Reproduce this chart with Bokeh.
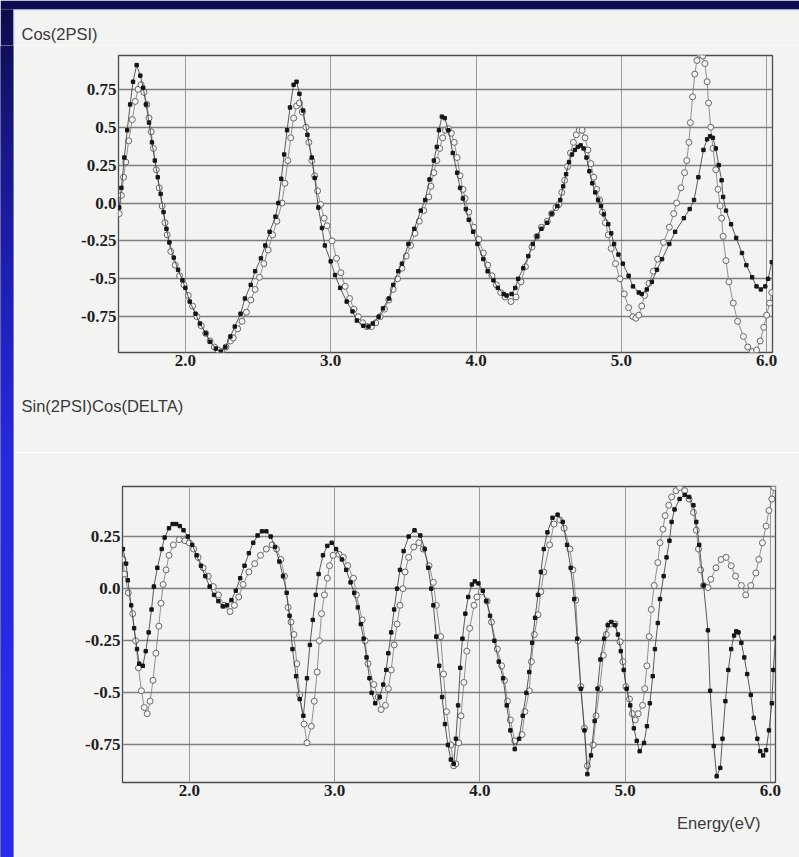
from bokeh.plotting import figure
from bokeh.layouts import row, column
from bokeh.models import FixedTicker, Range1d, Title
from bokeh.core.properties import value
from bokeh.embed import file_html
from bokeh.resources import INLINE

# ---------------- data ----------------
x_ticks = [2.0, 3.0, 4.0, 5.0, 6.0]
x_tick_labels = ["2.0", "3.0", "4.0", "5.0", "6.0"]
top_y_ticks = [-0.75, -0.5, -0.25, 0.0, 0.25, 0.5, 0.75]
top_y_tick_labels = ["-0.75", "-0.5", "-0.25", "0.0", "0.25", "0.5", "0.75"]
bot_y_ticks = [-0.75, -0.5, -0.25, 0.0, 0.25]
bot_y_tick_labels = ["-0.75", "-0.5", "-0.25", "0.0", "0.25"]

top_title = "Cos(2PSI)"
bot_title = "Sin(2PSI)Cos(DELTA)"
x_title = "Energy(eV)"

# Cos(2PSI): filled squares
cos_dots_e = [1.545, 1.56, 1.58, 1.60, 1.62, 1.64, 1.665, 1.69, 1.71, 1.73,
              1.75, 1.77, 1.79, 1.81, 1.83, 1.85, 1.87, 1.89, 1.92, 1.95,
              1.98, 2.00, 2.03, 2.07, 2.10, 2.14, 2.17, 2.21, 2.245, 2.275,
              2.31, 2.34, 2.38, 2.41, 2.45, 2.48, 2.52, 2.55, 2.58, 2.62,
              2.64, 2.66, 2.68, 2.70, 2.72, 2.745, 2.765, 2.785, 2.81, 2.84,
              2.87, 2.89, 2.915, 2.94, 2.96, 3.00, 3.03, 3.065, 3.11, 3.15,
              3.18, 3.225, 3.26, 3.29, 3.33, 3.36, 3.40, 3.43, 3.465, 3.49,
              3.535, 3.575, 3.62, 3.65, 3.68, 3.71, 3.73, 3.745, 3.765, 3.785,
              3.81, 3.84, 3.87, 3.89, 3.91, 3.93, 3.95, 3.98, 4.01, 4.05,
              4.08, 4.12, 4.15, 4.19, 4.21, 4.245, 4.27, 4.29, 4.325, 4.36,
              4.39, 4.42, 4.45, 4.49, 4.52, 4.56, 4.58, 4.60, 4.62, 4.64,
              4.66, 4.68, 4.70, 4.72, 4.74, 4.76, 4.78, 4.80, 4.82, 4.84,
              4.86, 4.88, 4.91, 4.93, 4.95, 4.98, 5.01, 5.05, 5.08, 5.12,
              5.14, 5.175, 5.21, 5.245, 5.28, 5.33, 5.37, 5.43, 5.47, 5.50,
              5.53, 5.565, 5.59, 5.61, 5.63, 5.65, 5.67, 5.69, 5.70, 5.72,
              5.755, 5.79, 5.83, 5.86, 5.90, 5.93, 5.96, 5.99, 6.01, 6.035]
cos_dots = [-0.03, 0.10, 0.30, 0.48, 0.65, 0.80, 0.91, 0.84, 0.76, 0.65,
            0.53, 0.40, 0.28, 0.17, 0.06, -0.06, -0.17, -0.26, -0.36, -0.44,
            -0.51, -0.56, -0.65, -0.73, -0.795, -0.86, -0.915, -0.96, -0.98, -0.95,
            -0.88, -0.815, -0.73, -0.63, -0.54, -0.45, -0.365, -0.28, -0.19, -0.09,
            0.0, 0.16, 0.32, 0.48, 0.63, 0.78, 0.80, 0.72, 0.61, 0.45,
            0.30, 0.165, -0.03, -0.165, -0.28, -0.385, -0.475, -0.56, -0.65, -0.715,
            -0.775, -0.81, -0.815, -0.795, -0.75, -0.695, -0.63, -0.54, -0.45, -0.40,
            -0.27, -0.17, -0.05, 0.02, 0.155, 0.28, 0.37, 0.48, 0.57, 0.56,
            0.48, 0.33, 0.20, 0.10, 0.03, -0.04, -0.11, -0.19, -0.27, -0.37,
            -0.45, -0.51, -0.56, -0.60, -0.61, -0.60, -0.56, -0.50, -0.43, -0.35,
            -0.27, -0.22, -0.17, -0.13, -0.07, -0.02, 0.02, 0.11, 0.19, 0.27,
            0.32, 0.35, 0.37, 0.38, 0.36, 0.30, 0.21, 0.13, 0.07, 0.02,
            -0.02, -0.075, -0.14, -0.20, -0.27, -0.34, -0.40, -0.48, -0.55, -0.59,
            -0.60, -0.57, -0.52, -0.44, -0.37, -0.27, -0.19, -0.10, -0.04, 0.02,
            0.17, 0.35, 0.42, 0.44, 0.43, 0.36, 0.25, 0.15, 0.04, -0.05,
            -0.14, -0.23, -0.33, -0.41, -0.49, -0.55, -0.57, -0.55, -0.50, -0.39]

# Cos(2PSI): open circles
cos_circ_e = [1.545, 1.56, 1.575, 1.59, 1.61, 1.635, 1.655, 1.675, 1.695, 1.715,
              1.735, 1.75, 1.765, 1.78, 1.80, 1.82, 1.84, 1.86, 1.875, 1.90,
              1.93, 1.96, 1.99, 2.02, 2.05, 2.08, 2.11, 2.14, 2.17, 2.20,
              2.225, 2.25, 2.28, 2.31, 2.33, 2.36, 2.39, 2.42, 2.45, 2.48,
              2.51, 2.54, 2.57, 2.60, 2.63, 2.665, 2.685, 2.705, 2.725, 2.745,
              2.765, 2.785, 2.805, 2.83, 2.85, 2.87, 2.89, 2.91, 2.93, 2.955,
              2.975, 3.01, 3.04, 3.07, 3.10, 3.13, 3.16, 3.19, 3.22, 3.25,
              3.28, 3.31, 3.34, 3.37, 3.40, 3.43, 3.46, 3.49, 3.52, 3.55,
              3.58, 3.61, 3.64, 3.675, 3.69, 3.71, 3.73, 3.75, 3.77, 3.79,
              3.81, 3.83, 3.85, 3.87, 3.89, 3.91, 3.925, 3.95, 3.985, 4.02,
              4.05, 4.08, 4.11, 4.14, 4.17, 4.20, 4.24, 4.275, 4.31, 4.34,
              4.385, 4.42, 4.45, 4.49, 4.52, 4.55, 4.57, 4.59, 4.61, 4.63,
              4.65, 4.67, 4.69, 4.71, 4.73, 4.75, 4.77, 4.79, 4.81, 4.83,
              4.85, 4.87, 4.89, 4.91, 4.93, 4.96, 4.99, 5.02, 5.05, 5.08,
              5.10, 5.12, 5.14, 5.16, 5.19, 5.22, 5.25, 5.29, 5.33, 5.36,
              5.38, 5.41, 5.435, 5.45, 5.465, 5.475, 5.49, 5.505, 5.52, 5.54,
              5.56, 5.575, 5.59, 5.60, 5.615, 5.63, 5.65, 5.665, 5.68, 5.69,
              5.70, 5.72, 5.74, 5.77, 5.80, 5.84, 5.87, 5.90, 5.93, 5.955,
              5.98, 6.00, 6.02, 6.035]
cos_circ = [-0.07, 0.05, 0.17, 0.27, 0.41, 0.55, 0.67, 0.75, 0.78, 0.73,
            0.65, 0.56, 0.47, 0.36, 0.22, 0.10, -0.02, -0.13, -0.21, -0.32,
            -0.41, -0.48, -0.54, -0.61, -0.68, -0.75, -0.81, -0.86, -0.91, -0.95,
            -0.97, -0.98, -0.95, -0.91, -0.89, -0.83, -0.78, -0.72, -0.64, -0.57,
            -0.49, -0.40, -0.31, -0.21, -0.12, 0.0, 0.13, 0.28, 0.43, 0.56,
            0.64, 0.66, 0.60, 0.50, 0.40, 0.28, 0.18, 0.08, -0.01, -0.10,
            -0.15, -0.25, -0.365, -0.46, -0.55, -0.63, -0.70, -0.75, -0.79, -0.815,
            -0.815, -0.79, -0.75, -0.70, -0.64, -0.57, -0.50, -0.43, -0.35, -0.28,
            -0.20, -0.12, -0.05, 0.04, 0.11, 0.20, 0.28, 0.36, 0.43, 0.48,
            0.49, 0.46, 0.40, 0.30, 0.18, 0.09, 0.03, -0.06, -0.16, -0.24,
            -0.33, -0.41, -0.48, -0.54, -0.59, -0.62, -0.65, -0.62, -0.52, -0.42,
            -0.29, -0.22, -0.16, -0.12, -0.07, -0.03, -0.01, 0.07, 0.15, 0.24,
            0.33, 0.40, 0.45, 0.48, 0.48, 0.43, 0.35, 0.26, 0.17, 0.09,
            0.02, -0.06, -0.13, -0.21, -0.30, -0.40, -0.50, -0.60, -0.69, -0.75,
            -0.76, -0.74, -0.68, -0.61, -0.53, -0.45, -0.37, -0.26, -0.16, -0.07,
            0.0, 0.10, 0.20, 0.28, 0.40, 0.53, 0.70, 0.85, 0.94, 0.98,
            0.97, 0.92, 0.80, 0.66, 0.50, 0.36, 0.22, 0.09, -0.02, -0.10,
            -0.22, -0.38, -0.52, -0.66, -0.78, -0.88, -0.95, -0.98, -0.97, -0.91,
            -0.82, -0.74, -0.66, -0.59]

# Sin(2PSI)Cos(DELTA): filled squares
sc_dots_e = [1.543, 1.565, 1.577, 1.60, 1.62, 1.64, 1.655, 1.68, 1.70, 1.72,
             1.74, 1.756, 1.78, 1.81, 1.83, 1.86, 1.885, 1.91, 1.935, 1.96,
             1.99, 2.02, 2.05, 2.08, 2.11, 2.14, 2.17, 2.20, 2.23, 2.26,
             2.29, 2.32, 2.35, 2.38, 2.41, 2.44, 2.47, 2.50, 2.53, 2.56,
             2.59, 2.62, 2.645, 2.67, 2.69, 2.71, 2.735, 2.76, 2.785, 2.81,
             2.83, 2.85, 2.87, 2.89, 2.92, 2.95, 2.98, 3.01, 3.05, 3.08,
             3.11, 3.135, 3.16, 3.18, 3.20, 3.22, 3.24, 3.255, 3.28, 3.31,
             3.335, 3.355, 3.37, 3.39, 3.41, 3.43, 3.45, 3.475, 3.51, 3.55,
             3.59, 3.62, 3.645, 3.665, 3.68, 3.70, 3.72, 3.74, 3.76, 3.78,
             3.80, 3.82, 3.835, 3.85, 3.865, 3.88, 3.90, 3.92, 3.945, 3.965,
             3.99, 4.02, 4.045, 4.07, 4.10, 4.13, 4.16, 4.185, 4.21, 4.24,
             4.27, 4.295, 4.32, 4.34, 4.36, 4.38, 4.40, 4.42, 4.44, 4.465,
             4.50, 4.535, 4.57, 4.60, 4.625, 4.65, 4.67, 4.695, 4.72, 4.74,
             4.765, 4.79, 4.81, 4.83, 4.855, 4.88, 4.905, 4.93, 4.95, 4.97,
             4.99, 5.01, 5.035, 5.06, 5.08, 5.10, 5.13, 5.15, 5.17, 5.19,
             5.205, 5.225, 5.24, 5.265, 5.285, 5.305, 5.32, 5.34, 5.375, 5.41,
             5.44, 5.47, 5.49, 5.51, 5.54, 5.57, 5.585, 5.61, 5.63, 5.655,
             5.67, 5.69, 5.71, 5.73, 5.75, 5.765, 5.78, 5.80, 5.82, 5.84,
             5.865, 5.885, 5.91, 5.93, 5.95, 5.97, 5.99, 6.01, 6.02, 6.035]
sc_dots = [0.19, 0.12, 0.04, -0.08, -0.19, -0.29, -0.36, -0.37, -0.30, -0.21,
           -0.10, 0.01, 0.10, 0.19, 0.245, 0.29, 0.31, 0.31, 0.30, 0.28,
           0.25, 0.21, 0.16, 0.11, 0.06, 0.01, -0.03, -0.06, -0.085, -0.08,
           -0.055, -0.01, 0.05, 0.11, 0.17, 0.22, 0.255, 0.275, 0.275, 0.25,
           0.20, 0.13, 0.06, -0.02, -0.13, -0.29, -0.42, -0.53, -0.61, -0.43,
           -0.27, -0.15, -0.03, 0.07, 0.16, 0.205, 0.22, 0.19, 0.14, 0.09,
           0.03, -0.02, -0.09, -0.17, -0.24, -0.33, -0.43, -0.50, -0.55, -0.52,
           -0.46, -0.39, -0.31, -0.21, -0.10, 0.0, 0.09, 0.18, 0.25, 0.28,
           0.255, 0.19, 0.10, 0.0, -0.08, -0.23, -0.37, -0.52, -0.65, -0.75,
           -0.82, -0.84, -0.72, -0.56, -0.38, -0.24, -0.12, -0.04, 0.02, 0.035,
           0.025, -0.01, -0.06, -0.13, -0.25, -0.35, -0.43, -0.56, -0.68, -0.77,
           -0.72, -0.61, -0.50, -0.40, -0.26, -0.14, -0.03, 0.08, 0.19, 0.27,
           0.34, 0.355, 0.32, 0.21, 0.10, -0.05, -0.24, -0.48, -0.68, -0.89,
           -0.80, -0.635, -0.48, -0.34, -0.24, -0.175, -0.16, -0.175, -0.22, -0.30,
           -0.39, -0.48, -0.56, -0.67, -0.73, -0.78, -0.74, -0.66, -0.55, -0.42,
           -0.29, -0.165, -0.05, 0.06, 0.15, 0.23, 0.32, 0.38, 0.43, 0.45,
           0.44, 0.40, 0.32, 0.21, 0.015, -0.20, -0.49, -0.755, -0.90, -0.86,
           -0.72, -0.54, -0.39, -0.29, -0.225, -0.205, -0.21, -0.26, -0.33, -0.41,
           -0.51, -0.62, -0.72, -0.78, -0.80, -0.775, -0.68, -0.55, -0.39, -0.235]

# Sin(2PSI)Cos(DELTA): open circles
sc_circ_e = [1.543, 1.555, 1.58, 1.61, 1.63, 1.65, 1.67, 1.69, 1.71, 1.73,
             1.75, 1.77, 1.79, 1.805, 1.82, 1.84, 1.86, 1.89, 1.93, 1.97,
             2.00, 2.03, 2.06, 2.095, 2.13, 2.165, 2.20, 2.24, 2.28, 2.31,
             2.34, 2.37, 2.41, 2.45, 2.49, 2.53, 2.57, 2.60, 2.63, 2.655,
             2.68, 2.70, 2.72, 2.74, 2.76, 2.79, 2.81, 2.84, 2.86, 2.88,
             2.895, 2.91, 2.93, 2.95, 2.965, 2.99, 3.03, 3.06, 3.09, 3.13,
             3.15, 3.19, 3.21, 3.23, 3.27, 3.30, 3.32, 3.35, 3.37, 3.39,
             3.41, 3.43, 3.45, 3.47, 3.485, 3.51, 3.545, 3.58, 3.61, 3.65,
             3.68, 3.70, 3.73, 3.75, 3.77, 3.80, 3.82, 3.835, 3.855, 3.87,
             3.89, 3.91, 3.93, 3.96, 3.98, 4.01, 4.05, 4.08, 4.12, 4.15,
             4.17, 4.19, 4.21, 4.24, 4.29, 4.31, 4.34, 4.355, 4.375, 4.40,
             4.42, 4.44, 4.48, 4.51, 4.55, 4.58, 4.62, 4.64, 4.66, 4.675,
             4.695, 4.72, 4.74, 4.78, 4.80, 4.825, 4.85, 4.87, 4.895, 4.93,
             4.965, 4.985, 5.005, 5.03, 5.05, 5.07, 5.09, 5.12, 5.135, 5.15,
             5.165, 5.18, 5.20, 5.225, 5.24, 5.26, 5.275, 5.30, 5.32, 5.35,
             5.375, 5.41, 5.44, 5.47, 5.49, 5.505, 5.52, 5.54, 5.57, 5.59,
             5.625, 5.66, 5.695, 5.73, 5.76, 5.80, 5.83, 5.865, 5.90, 5.92,
             5.945, 5.97, 5.99, 6.01, 6.025]
sc_circ = [0.14, 0.07, -0.02, -0.12, -0.25, -0.38, -0.49, -0.57, -0.60, -0.54,
           -0.44, -0.31, -0.18, -0.07, 0.02, 0.09, 0.16, 0.21, 0.235, 0.23,
           0.22, 0.19, 0.15, 0.10, 0.06, 0.01, -0.03, -0.08, -0.11, -0.08,
           -0.04, 0.02, 0.08, 0.12, 0.16, 0.19, 0.21, 0.19, 0.14, 0.06,
           -0.09, -0.16, -0.22, -0.36, -0.51, -0.65, -0.74, -0.66, -0.54, -0.40,
           -0.25, -0.12, -0.03, 0.05, 0.11, 0.16, 0.165, 0.15, 0.11, 0.05,
           -0.03, -0.15, -0.25, -0.36, -0.46, -0.52, -0.58, -0.56, -0.48, -0.39,
           -0.27, -0.17, -0.08, 0.0, 0.08, 0.15, 0.20, 0.22, 0.19, 0.11,
           0.03, -0.08, -0.23, -0.41, -0.59, -0.75, -0.85, -0.84, -0.74, -0.61,
           -0.45, -0.30, -0.19, -0.08, -0.04, -0.015, -0.06, -0.16, -0.29, -0.37,
           -0.44, -0.54, -0.63, -0.73, -0.70, -0.59, -0.49, -0.35, -0.22, -0.125,
           -0.015, 0.08, 0.21, 0.31, 0.33, 0.29, 0.19, 0.09, -0.055, -0.25,
           -0.47, -0.67, -0.85, -0.75, -0.61, -0.48, -0.32, -0.22, -0.17, -0.17,
           -0.255, -0.35, -0.47, -0.53, -0.60, -0.63, -0.60, -0.56, -0.48, -0.37,
           -0.23, -0.10, 0.015, 0.125, 0.22, 0.285, 0.35, 0.40, 0.44, 0.47,
           0.485, 0.47, 0.43, 0.365, 0.28, 0.19, 0.09, 0.015, 0.005, 0.045,
           0.10, 0.14, 0.15, 0.11, 0.06, 0.015, -0.03, 0.015, 0.075, 0.14,
           0.22, 0.30, 0.375, 0.43, 0.485]

# ---------------- styling / layout ----------------
PAGE_W, PAGE_H = 799, 857
STRIP_W, STRIP_H = 14, 10            # blue slide margin (left) and top
HEAD_H = 45                          # page y 0..45: top strip + "Cos(2PSI)"
COL_W = PAGE_W - STRIP_W
PAPER = "#f3f3f2"
NAVY = "#0c0c50"
EDGE = "#c4dcf4"
DOT_C = "#151515"
CIRC_C = "#6a6a6a"
SERIF = "Liberation Serif"
SANS = "Liberation Sans"
TXT_C = "#3a3a3a"

TOP_H = 407                               # page y 45..452
BOT_H = PAGE_H - HEAD_H - TOP_H           # page y 452..857
TOP_F = dict(left=104, right=27, top=10, bottom=100)
BOT_F = dict(left=108, right=24, top=34, bottom=75)
TOP_XR, TOP_YR = (1.54, 6.04), (-0.986, 0.973)
BOT_XR, BOT_YR = (1.54, 6.035), (-0.93, 0.49)


def make_plot(h, fr, xr, yr, yticks, ylabels):
    p = figure(width=COL_W, height=h, x_range=Range1d(*xr), y_range=Range1d(*yr),
               output_backend="svg", toolbar_location=None,
               min_border_left=fr["left"], min_border_right=fr["right"],
               min_border_top=fr["top"], min_border_bottom=fr["bottom"])
    p.title.visible = False
    p.background_fill_color = PAPER
    p.border_fill_color = PAPER
    p.outline_line_color = "#4c4c4c"
    p.outline_line_width = 1.3
    p.xaxis.ticker = FixedTicker(ticks=x_ticks)
    p.xaxis.major_label_overrides = dict(zip(x_ticks, x_tick_labels))
    p.yaxis.ticker = FixedTicker(ticks=yticks)
    p.yaxis.major_label_overrides = dict(zip(yticks, ylabels))
    p.xgrid.grid_line_color = "#9a9a9a"
    p.xgrid.grid_line_width = 1
    p.ygrid.grid_line_color = "#7e7e7e"
    p.ygrid.grid_line_width = 1.6
    for ax in p.axis:
        ax.axis_line_color = None
        ax.major_tick_line_color = None
        ax.minor_tick_line_color = None
        ax.major_tick_out = 0
        ax.major_tick_in = 0
        ax.major_label_text_font = SERIF
        ax.major_label_text_font_style = "bold"
        ax.major_label_text_font_size = "17px"
        ax.major_label_text_color = "#1e1e1e"
        ax.major_label_standoff = 2
    return p


def make_title(text, align, offset, standoff):
    return Title(text=text, align=align, offset=offset, standoff=standoff,
                 text_font=SANS, text_font_size="16.5px",
                 text_font_style="normal", text_color=TXT_C)


def add_series(p, ce, cv, de, dv):
    p.line(ce, cv, line_color="#777777", line_width=0.8)
    p.scatter(ce, cv, marker="circle", size=6, fill_color=PAPER,
              line_color=CIRC_C, line_width=1)
    p.line(de, dv, line_color="#333333", line_width=0.8)
    p.scatter(de, dv, marker="square", size=3.4, fill_color=DOT_C, line_color=DOT_C)


def blank(width, height, bg):
    # figure whose frame is the whole canvas; y grows downwards (pixel-like)
    p = figure(width=width, height=height, x_range=Range1d(0, width),
               y_range=Range1d(height, 0), output_backend="svg",
               toolbar_location=None, min_border=0,
               x_axis_location=None, y_axis_location=None)
    p.title.visible = False
    p.grid.visible = False
    p.outline_line_color = None
    p.background_fill_color = bg
    p.border_fill_color = bg
    return p


# gradient stops (page y, rgb) of the slide's left margin
grad_y = [0, 150, 300, 450, 857]
grad_rgb = [(12, 12, 72), (24, 24, 140), (32, 32, 188), (40, 40, 222), (44, 44, 238)]


def grad_color(y):
    for k in range(len(grad_y) - 1):
        if y <= grad_y[k + 1]:
            f = (y - grad_y[k]) / (grad_y[k + 1] - grad_y[k])
            c = [int(a + (b - a) * f) for a, b in zip(grad_rgb[k], grad_rgb[k + 1])]
            return "#%02x%02x%02x" % tuple(c)
    return "#%02x%02x%02x" % grad_rgb[-1]


def gradient_bands(p, y0, y1, y_offset, step=8):
    tops, bots, cols = [], [], []
    y = y0
    while y < y1:
        tops.append(y - y_offset)
        bots.append(min(y + step + 0.5, y1) - y_offset)
        cols.append(grad_color(y + step / 2))
        y += step
    p.quad(left=0, right=STRIP_W - 1, top=tops, bottom=bots,
           fill_color=cols, line_color=None)


# --- header: navy strip, start of the blue left margin, "Cos(2PSI)" ---
head = blank(PAGE_W, HEAD_H, PAPER)
head.quad(left=0, right=PAGE_W, top=0, bottom=STRIP_H - 1, fill_color=NAVY, line_color=None)
gradient_bands(head, STRIP_H - 1, HEAD_H, 0, step=4)
head.quad(left=STRIP_W - 1, right=PAGE_W, top=STRIP_H - 1, bottom=STRIP_H,
          fill_color=EDGE, line_color=None)
head.quad(left=STRIP_W - 1, right=STRIP_W, top=STRIP_H, bottom=HEAD_H,
          fill_color=EDGE, line_color=None)
head.text(x=[21], y=[33], text=[top_title], text_font=value(SANS),
          text_font_size=value("16.5px"), text_color=TXT_C,
          text_baseline=value("alphabetic"), text_align=value("left"))

# --- plots ---
p_top = make_plot(TOP_H, TOP_F, TOP_XR, TOP_YR, top_y_ticks, top_y_tick_labels)
add_series(p_top, cos_circ_e, cos_circ, cos_dots_e, cos_dots)
# the second panel's heading sits just under the first panel's x axis
p_top.add_layout(make_title(bot_title, "left", 21 - (STRIP_W + TOP_F["left"]), 53), "below")

p_bot = make_plot(BOT_H, BOT_F, BOT_XR, BOT_YR, bot_y_ticks, bot_y_tick_labels)
add_series(p_bot, sc_circ_e, sc_circ, sc_dots_e, sc_dots)
p_bot.add_layout(make_title(x_title, "right", 15, 27), "below")

# --- rest of the blue left margin ---
LEFT_H = PAGE_H - HEAD_H
left = blank(STRIP_W, LEFT_H, NAVY)
gradient_bands(left, HEAD_H, PAGE_H, HEAD_H, step=8)
left.quad(left=STRIP_W - 1, right=STRIP_W, top=0, bottom=LEFT_H,
          fill_color=EDGE, line_color=None)

layout = column(head,
                row(left, column(row(p_top), row(p_bot), spacing=0), spacing=0),
                spacing=0)

open("out.html", "w").write(file_html(layout, INLINE))
